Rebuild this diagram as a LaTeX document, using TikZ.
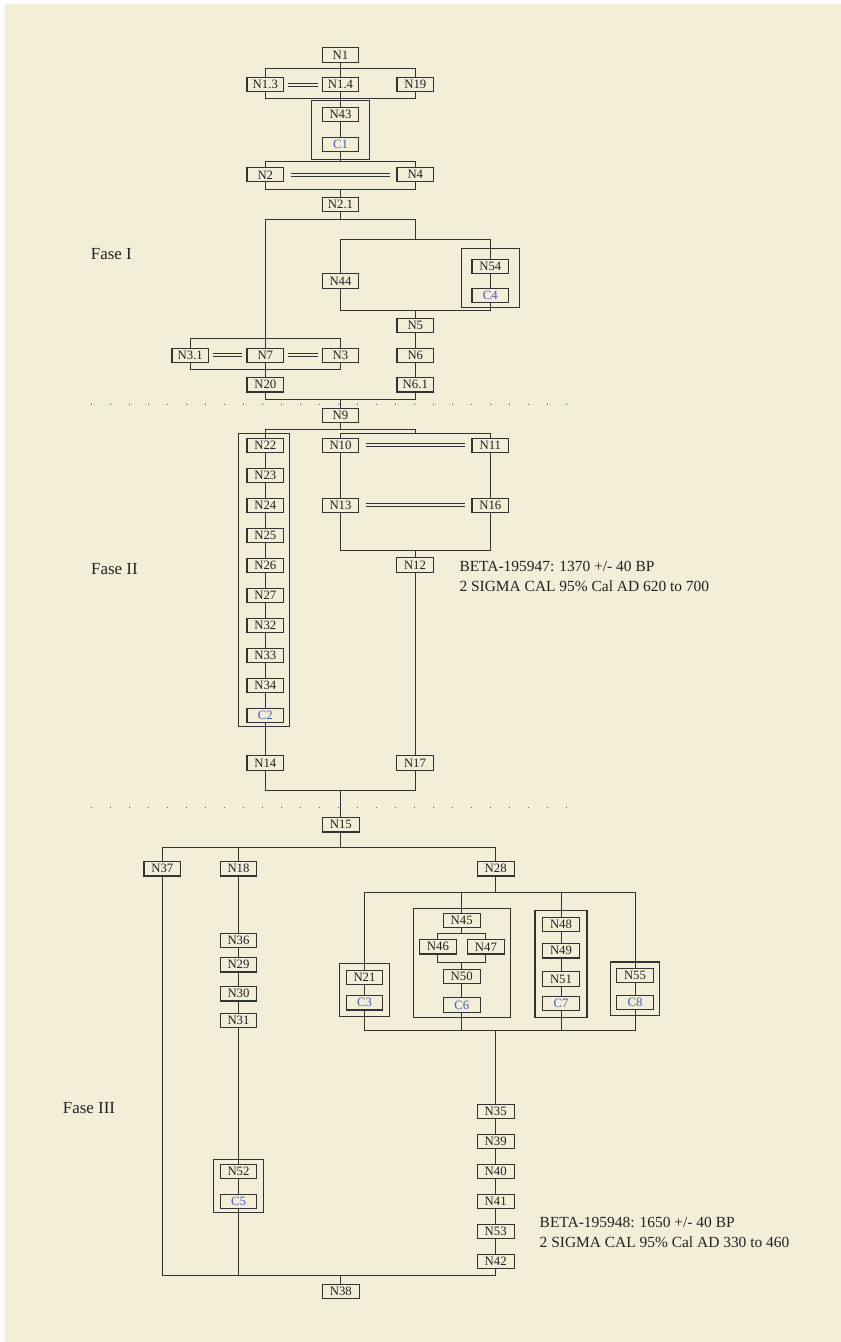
\documentclass[tikz,border=0pt]{standalone}
\usepackage{fontspec}
\setmainfont{Liberation Serif}
\usetikzlibrary{fit,calc}
\definecolor{cbg}{HTML}{F2EED7}
\definecolor{cline}{HTML}{333333}
\definecolor{ctxt}{HTML}{222222}
\definecolor{ccode}{HTML}{4462B8}

\begin{document}
\begin{tikzpicture}[
  x=1bp, y=-1bp,
  unit/.style={draw=cline, line width=1.1bp, fill=cbg, text=ctxt, minimum width=36.7bp,
               minimum height=14.3bp, inner sep=0pt, font=\fontsize{12.8}{14}\selectfont},
  cunit/.style={unit, text=ccode},
  grp/.style={draw=cline, line width=1.1bp},
  link/.style={draw=cline, line width=0.9bp},
  eq/.style={draw=cline, line width=0.9bp, double=cbg, double distance=2bp,
             shorten <=4bp, shorten >=4bp},
  eqw/.style={eq, shorten <=6.5bp, shorten >=6.5bp},
  fase/.style={anchor=base west, inner sep=0pt, text=ctxt, font=\fontsize{17}{20}\selectfont},
  date/.style={anchor=west, align=left, inner sep=0pt, text=ctxt, font=\fontsize{15.5}{20}\selectfont},
  dots/.style={draw=cline!70, line width=1bp, dash pattern=on 1bp off 18bp},
]
\useasboundingbox (0,0) rectangle (840,1342);
\fill[white] (-10,-10) rectangle (850,1352);
\fill[cbg] (5,4) rectangle (850,1352);

% ---- bar levels ----
\coordinate (b1) at (0,68.3);   \coordinate (b2) at (0,98.3);
\coordinate (b3) at (0,161.7);  \coordinate (b4) at (0,189.7);
\coordinate (b5) at (0,219.5);  \coordinate (b6) at (0,239.3);
\coordinate (b7) at (0,310);    \coordinate (b8) at (0,338.3);
\coordinate (b9) at (0,369.7);  \coordinate (b10) at (0,399.3);
\coordinate (b11) at (0,429.3); \coordinate (b12) at (0,433.7);
\coordinate (b13) at (0,550);   \coordinate (b14) at (0,790.3);
\coordinate (b15) at (0,847.7); \coordinate (b16) at (0,892.7);
\coordinate (b6a) at (0,933.7); \coordinate (b6b) at (0,962);
\coordinate (b17) at (0,1030.7);\coordinate (b18) at (0,1275);

% ---- Fase I ----
\node[fase] (fase1) at (90.7,259.3) {Fase I};
\node[unit] (n1) at (340.5,55) {N1};
\node[unit] (n1d3) at (265.3,84.8) {N1.3};
\node[unit] (n1d4) at (340.5,84.8) {N1.4};
\node[unit] (n19) at (415.3,84.8) {N19};
\node[unit] (n43) at (340.5,114.5) {N43};
\node[cunit] (c1) at (340.5,144.8) {C1};
\node[grp, fit=(n43)(c1), inner xsep=10.5bp, inner ysep=6.6bp] (f1) {};
\node[unit] (n2) at (265.3,174.8) {N2};
\node[unit] (n4) at (415.3,174.8) {N4};
\node[unit] (n2d1) at (340.5,204.8) {N2.1};
\node[unit] (n44) at (340.5,281) {N44};
\node[unit] (n54) at (490.3,266.3) {N54};
\node[cunit] (c4) at (490.3,295.2) {C4};
\node[grp, fit=(n54)(c4), inner xsep=10.3bp, inner ysep=7.5bp, yshift=2.5bp] (f2) {};
\node[unit] (n5) at (415.3,325.3) {N5};
\node[unit] (n6) at (415.3,355.2) {N6};
\node[unit] (n6d1) at (415.3,384.8) {N6.1};
\node[unit] (n3d1) at (190.3,355.2) {N3.1};
\node[unit] (n7) at (265.3,355.2) {N7};
\node[unit] (n3) at (340.5,355.2) {N3};
\node[unit] (n20) at (265.3,384.8) {N20};

\draw[link] (n1) -- (n1d4);
\draw[link] (n1d3.north) |- (b1 -| n19) -- (n19.north);
\draw[link] (n1d3.south) |- (b2 -| n19) -- (n19.south);
\draw[eq] (n1d3) -- (n1d4);
\draw[link] (n1d4) -- (n43);
\draw[link] (n43) -- (c1);
\draw[link] (c1.south) -- (c1 |- b3);
\draw[link] (n2.north) |- (b3 -| n4) -- (n4.north);
\draw[eqw] (n2) -- (n4);
\draw[link] (n2.south) |- (b4 -| n4) -- (n4.south);
\draw[link] (n2d1.north) -- (n2d1 |- b4);
\draw[link] (n2d1.south) -- (n2d1 |- b5);
\draw[link] (n7.north) |- (b5 -| n5) -- (n5 |- b6);
\draw[link] (n44.north) |- (b6 -| n54) -- (n54.north);
\draw[link] (n54) -- (c4);
\draw[link] (n44.south) |- (b7 -| n54) -- (c4.south);
\draw[link] (n5.north) -- (n5 |- b7);
\draw[link] (n5) -- (n6);
\draw[link] (n6) -- (n6d1);
\draw[link] (n3d1.north) |- (b8 -| n3) -- (n3.north);
\draw[eq] (n3d1) -- (n7);
\draw[eq] (n7) -- (n3);
\draw[link] (n3d1.south) |- (b9 -| n3) -- (n3.south);
\draw[link] (n7) -- (n20);
\draw[link] (n20.south) |- (b10 -| n6d1) -- (n6d1.south);

\draw[dots] (90.5,404.5) -- (567.5,404.5);

% ---- Fase II ----
\node[fase] (fase2) at (91,574) {Fase II};
\node[unit] (n9) at (340.5,415.3) {N9};
\foreach \nm/\y in {22/445.3,23/475.3,24/505.3,25/535.3,26/565.3,27/595.3,32/625.3,33/655.3,34/685.3}
  \node[unit] (n\nm) at (265.3,\y) {N\nm};
\node[cunit] (c2) at (265.3,715.3) {C2};
\node[grp, fit=(n22)(c2), inner xsep=7bp, inner ysep=3.8bp, xshift=-1.3bp] (fc2) {};
\node[unit] (n10) at (340.5,445.3) {N10};
\node[unit] (n11) at (490.3,445.3) {N11};
\node[unit] (n13) at (340.5,505.3) {N13};
\node[unit] (n16) at (490.3,505.3) {N16};
\node[unit] (n12) at (415,565) {N12};
\node[unit] (n14) at (265.3,763) {N14};
\node[unit] (n17) at (415,763) {N17};
\node[date] (beta1) at (459.3,576.5) {BETA-195947: 1370 +/- 40 BP\\2 SIGMA CAL 95\% Cal AD 620 to 700};

\draw[link] (n9.north) -- (n9 |- b10);
\draw[link] (n9.south) -- (n9 |- b11);
\draw[link] (n22.north) |- (b11 -| n12) -- (n12 |- b12);
\draw[link] (n10.north) |- (b12 -| n11) -- (n11.north);
\foreach \a/\b in {n22/n23,n23/n24,n24/n25,n25/n26,n26/n27,n27/n32,n32/n33,n33/n34,n34/c2,c2/n14}
  \draw[link] (\a) -- (\b);
\draw[eqw] (n10) -- (n11);
\draw[eqw] (n13) -- (n16);
\draw[link] (n10) -- (n13);
\draw[link] (n11) -- (n16);
\draw[link] (n13.south) |- (b13 -| n16) -- (n16.south);
\draw[link] (n12.north) -- (n12 |- b13);
\draw[link] (n12) -- (n17);
\draw[link] (n14.south) |- (b14 -| n17) -- (n17.south);

\draw[dots] (90.5,807.7) -- (567.5,807.7);

% ---- Fase III ----
\node[fase] (fase3) at (62.7,1113) {Fase III};
\node[unit] (n15) at (340.8,824.8) {N15};
\node[unit] (n37) at (162.3,868.8) {N37};
\node[unit] (n18) at (238.5,868.8) {N18};
\node[unit] (n28) at (495.7,868.8) {N28};
\foreach \nm/\y in {36/940.7,29/964.8,30/993.8,31/1020.5,52/1171.2}
  \node[unit] (n\nm) at (238.5,\y) {N\nm};
\node[cunit] (c5) at (238.5,1201.2) {C5};
\node[grp, fit=(n52)(c5), inner xsep=5.8bp, inner ysep=4bp] (f5) {};
\node[unit] (n21) at (364.5,977.2) {N21};
\node[cunit] (c3) at (364.5,1002.8) {C3};
\node[grp, fit=(n21)(c3), inner xsep=5.9bp, inner ysep=6.3bp] (f3) {};
\node[unit] (n45) at (461.7,920.7) {N45};
\node[unit] (n46) at (437.9,946.8) {N46};
\node[unit] (n47) at (485.9,946.8) {N47};
\node[unit] (n50) at (461.7,976.3) {N50};
\node[cunit] (c6) at (461.7,1005) {C6};
\node[grp, fit=(n45)(n46)(n47)(c6), inner xsep=5.4bp, inner ysep=4.7bp] (f6) {};
\node[unit] (n48) at (561,924.2) {N48};
\node[unit] (n49) at (561,950.8) {N49};
\node[unit] (n51) at (561,979) {N51};
\node[cunit] (c7) at (561,1003.5) {C7};
\node[grp, fit=(n48)(c7), inner xsep=7.1bp, inner ysep=6bp] (f7) {};
\node[unit] (n55) at (635,975.5) {N55};
\node[cunit] (c8) at (635,1002.3) {C8};
\node[grp, fit=(n55)(c8), inner xsep=5.9bp, inner ysep=5.8bp] (f8) {};
\foreach \nm/\y in {35/1111.2,39/1141.2,40/1171.2,41/1201.2,53/1231.2,42/1261.2}
  \node[unit] (n\nm) at (495.7,\y) {N\nm};
\node[unit] (n38) at (340.8,1291.3) {N38};
\node[date] (beta2) at (539.5,1232.3) {BETA-195948: 1650 +/- 40 BP\\2 SIGMA CAL 95\% Cal AD 330 to 460};

\draw[link] (n15.north) -- (n15 |- b14);
\draw[link] (n15.south) -- (n15 |- b15);
\draw[link] (n37.north) |- (b15 -| n28) -- (n28.north);
\draw[link] (n18.north) -- (n18 |- b15);
\foreach \a/\b in {n18/n36,n36/n29,n29/n30,n30/n31,n31/n52,n52/c5,n21/c3,n50/c6,n48/n49,n49/n51,n51/c7,n55/c8,
                   n35/n39,n39/n40,n40/n41,n41/n53,n53/n42}
  \draw[link] (\a) -- (\b);
\draw[link] (n28.south) -- (n28 |- b16);
\draw[link] (n21.north) |- (b16 -| n55) -- (n55.north);
\draw[link] (n45.north) -- (n45 |- b16);
\draw[link] (n48.north) -- (n48 |- b16);
\draw[link] (n45.south) -- (n45 |- b6a);
\draw[link] (n46.north) |- (b6a -| n47) -- (n47.north);
\draw[link] (n46.south) |- (b6b -| n47) -- (n47.south);
\draw[link] (n50.north) -- (n50 |- b6b);
\draw[link] (c3.south) |- (b17 -| c8) -- (c8.south);
\draw[link] (c6.south) -- (c6 |- b17);
\draw[link] (c7.south) -- (c7 |- b17);
\draw[link] (n35.north) -- (n35 |- b17);
\draw[link] (n37.south) |- (b18 -| n42) -- (n42.south);
\draw[link] (c5.south) -- (c5 |- b18);
\draw[link] (n38.north) -- (n38 |- b18);
\end{tikzpicture}
\end{document}
